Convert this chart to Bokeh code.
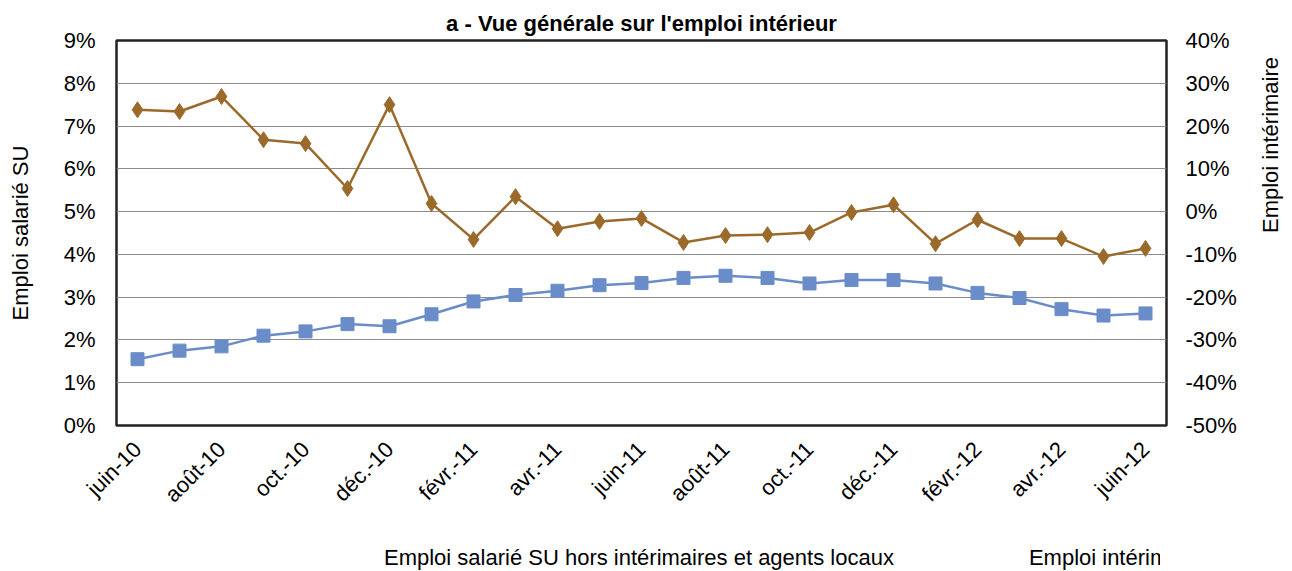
import math
from bokeh.plotting import figure
from bokeh.layouts import column
from bokeh.models import (Range1d, LinearAxis, FixedTicker, PrintfTickFormatter,
                          Legend, LegendItem)
from bokeh.embed import file_html
from bokeh.resources import INLINE

months = ["juin-10", "juil.-10", "août-10", "sept.-10", "oct.-10", "nov.-10", "déc.-10",
          "janv.-11", "févr.-11", "mars-11", "avr.-11", "mai-11", "juin-11", "juil.-11",
          "août-11", "sept.-11", "oct.-11", "nov.-11", "déc.-11", "janv.-12", "févr.-12",
          "mars-12", "avr.-12", "mai-12", "juin-12"]
emploi_su = [1.55, 1.75, 1.85, 2.1, 2.2, 2.37, 2.32, 2.6, 2.9, 3.05, 3.15, 3.28, 3.33,
             3.45, 3.5, 3.45, 3.32, 3.4, 3.4, 3.32, 3.1, 2.98, 2.72, 2.57, 2.62]
emploi_interim = [23.8, 23.4, 26.9, 16.8, 15.9, 5.4, 25.0, 1.9, -6.5, 3.5, -4.0, -2.3, -1.6,
                  -7.2, -5.6, -5.4, -4.9, -0.2, 1.6, -7.5, -1.9, -6.3, -6.3, -10.5, -8.6]
left_ticks = list(range(0, 10))
right_ticks = list(range(-50, 41, 10))
series_names = ["Emploi salarié SU hors intérimaires et agents locaux", "Emploi intérimaire"]

FONT = "Liberation Sans"
BLUE = "#6A8CC8"
BROWN = "#9B6A2B"

x = list(range(len(months)))

p = figure(frame_width=1050, frame_height=385,
           output_backend="svg", toolbar_location=None,
           x_range=Range1d(-0.5, len(months) - 0.5), y_range=Range1d(0, 9),
           min_border_left=116, min_border_top=40, min_border_right=126,
           min_border_bottom=114)
p.title.text = "a - Vue générale sur l'emploi intérieur"
p.title.align = "center"
p.title.text_font = FONT
p.title.text_font_size = "22px"
p.title.text_font_style = "bold"
p.title.text_color = "#000000"

p.outline_line_color = "#222222"
p.outline_line_width = 2.5
p.xgrid.visible = False
p.ygrid.grid_line_color = "#8c8c8c"
p.ygrid.grid_line_width = 1.2

p.extra_y_ranges = {"right": Range1d(-50, 40)}

ya = p.yaxis[0]
ya.ticker = FixedTicker(ticks=left_ticks)
ya.formatter = PrintfTickFormatter(format="%d%%")
ya.axis_label = "Emploi salarié SU"
ya.major_label_standoff = 21
ya.axis_label_standoff = 28

ra = LinearAxis(y_range_name="right", ticker=FixedTicker(ticks=right_ticks),
                formatter=PrintfTickFormatter(format="%d%%"),
                axis_label="Emploi intérimaire")
ra.major_label_standoff = 19
ra.axis_label_standoff = 31
ra.axis_label_orientation = math.pi / 2
p.add_layout(ra, "right")

xa = p.xaxis[0]
xa.ticker = FixedTicker(ticks=list(range(0, len(months), 2)))
xa.major_label_overrides = {i: months[i] for i in range(0, len(months), 2)}
xa.major_label_orientation = math.pi / 4
xa.major_label_standoff = 20

for ax in [ya, ra, xa]:
    ax.axis_line_color = None
    ax.major_tick_line_color = None
    ax.minor_tick_line_color = None
    ax.major_tick_out = 0
    ax.major_tick_in = 0
    ax.minor_tick_out = 0
    ax.major_label_text_font = FONT
    ax.major_label_text_font_size = "22px"
    ax.major_label_text_color = "#000000"
    ax.axis_label_text_font = FONT
    ax.axis_label_text_font_size = "22px"
    ax.axis_label_text_font_style = "normal"
    ax.axis_label_text_color = "#000000"

p.line(x, emploi_su, color=BLUE, line_width=2.5)
p.scatter(x, emploi_su, marker="square", size=13, color=BLUE)
p.line(x, emploi_interim, color=BROWN, line_width=2.5, y_range_name="right")
p.scatter(x, emploi_interim, marker="diamond", size=16, color=BROWN, y_range_name="right")

# legend strip below the chart
pl = figure(width=1292, height=34, output_backend="svg", toolbar_location=None,
            x_range=Range1d(0, 1), y_range=Range1d(0, 1), min_border=0,
            x_axis_location=None, y_axis_location=None)
pl.xgrid.visible = False
pl.ygrid.grid_line_color = None
pl.outline_line_color = None
ll1 = pl.line([], [], color=BLUE, line_width=2.5)
lm1 = pl.scatter([], [], marker="square", color=BLUE)
ll2 = pl.line([], [], color=BROWN, line_width=2.5)
lm2 = pl.scatter([], [], marker="diamond", color=BROWN)

legend = Legend(items=[
    LegendItem(label=series_names[0], renderers=[ll1, lm1]),
    LegendItem(label=series_names[1], renderers=[ll2, lm2]),
], orientation="horizontal", location=(211, 0))
legend.label_text_font = FONT
legend.label_text_font_size = "22px"
legend.label_text_color = "#000000"
legend.border_line_color = None
legend.background_fill_alpha = 0
legend.spacing = 78
legend.glyph_width = 50
legend.glyph_height = 30
legend.label_height = 30
legend.label_standoff = 7
legend.margin = 0
legend.padding = 2
pl.add_layout(legend)

open("out.html", "w").write(file_html(column(p, pl), INLINE))
